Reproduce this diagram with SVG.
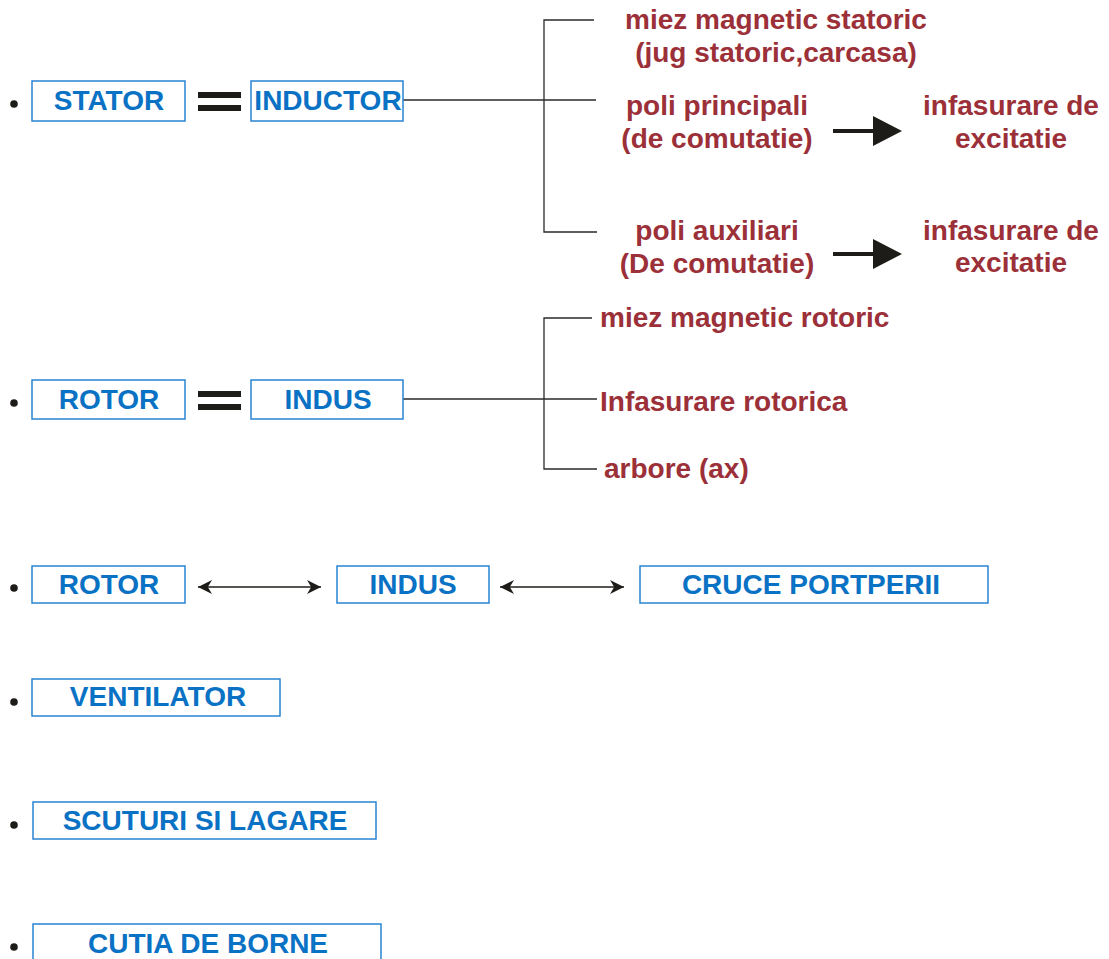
<svg xmlns="http://www.w3.org/2000/svg" width="1109" height="959" viewBox="0 0 1109 959">
  <style>
    .box { fill: #ffffff; stroke: #2a84d2; stroke-width: 1.5; }
    .lbl { font-family: "Liberation Sans", Arial, sans-serif; font-weight: bold; font-size: 28px; fill: #0a72c4; text-anchor: middle; }
    .part { font-family: "Liberation Sans", Arial, sans-serif; font-weight: bold; font-size: 28px; fill: #9c3039; }
    .mid { text-anchor: middle; }
    .dot { fill: #1e1c18; }
    .bar { fill: #1e1c18; }
    .wire { stroke: #2a2a2a; stroke-width: 1.3; fill: none; }
    .dbl { stroke: #1e1c18; stroke-width: 1.5; fill: none; marker-start: url(#tipL); marker-end: url(#tipR); }
  </style>
  <defs>
    <marker id="tipR" viewBox="0 0 10 10" refX="10" refY="5" markerWidth="14" markerHeight="14" markerUnits="userSpaceOnUse" orient="auto">
      <path d="M0,0 L10,5 L0,10 L3,5 Z" fill="#1e1c18"/>
    </marker>
    <marker id="tipL" viewBox="0 0 10 10" refX="0" refY="5" markerWidth="14" markerHeight="14" markerUnits="userSpaceOnUse" orient="auto">
      <path d="M10,0 L0,5 L10,10 L7,5 Z" fill="#1e1c18"/>
    </marker>
  </defs>

  <!-- bullets -->
  <g id="bullets">
    <circle class="dot" cx="14" cy="104" r="3.8"/>
    <circle class="dot" cx="14" cy="403" r="3.8"/>
    <circle class="dot" cx="14" cy="588" r="3.8"/>
    <circle class="dot" cx="14" cy="702" r="3.8"/>
    <circle class="dot" cx="14" cy="825" r="3.8"/>
    <circle class="dot" cx="14" cy="947" r="3.8"/>
  </g>

  <!-- connectors -->
  <g id="connectors">
    <!-- stator bracket -->
    <path class="wire" d="M594,20 H544 V232 H597"/>
    <path class="wire" d="M403,100 H596"/>
    <!-- rotor bracket -->
    <path class="wire" d="M592,318 H544 V469 H597"/>
    <path class="wire" d="M403,399 H597"/>
    <!-- thick arrows to the windings -->
    <path class="bar" d="M833,129 H873 V116 L902,131 L873,146 V133 H833 Z"/>
    <path class="bar" d="M833,252 H873 V239 L902,254 L873,269 V256 H833 Z"/>
    <!-- double-headed links -->
    <line class="dbl" x1="198" y1="587" x2="321" y2="587"/>
    <line class="dbl" x1="500" y1="587" x2="624" y2="587"/>
    <!-- equals signs -->
    <rect class="bar" x="198" y="92" width="43" height="6"/>
    <rect class="bar" x="198" y="105" width="43" height="6"/>
    <rect class="bar" x="198" y="391" width="43" height="6"/>
    <rect class="bar" x="198" y="404" width="43" height="6"/>
  </g>

  <g id="stator">
    <rect class="box" x="32" y="81" width="153" height="40"/>
    <text class="lbl" x="109" y="110">STATOR</text>
  </g>
  <g id="inductor">
    <rect class="box" x="251" y="81" width="152" height="40"/>
    <text class="lbl" x="328" y="110">INDUCTOR</text>
  </g>

  <g id="miez-statoric">
    <text class="part mid" x="776" y="29">miez magnetic statoric</text>
    <text class="part mid" x="776" y="62">(jug statoric,carcasa)</text>
  </g>
  <g id="poli-principali">
    <text class="part mid" x="717" y="115">poli principali</text>
    <text class="part mid" x="717" y="148">(de comutatie)</text>
  </g>
  <g id="excitatie-1">
    <text class="part mid" x="1011" y="115">infasurare de</text>
    <text class="part mid" x="1011" y="148">excitatie</text>
  </g>
  <g id="poli-auxiliari">
    <text class="part mid" x="717" y="240">poli auxiliari</text>
    <text class="part mid" x="717" y="273">(De comutatie)</text>
  </g>
  <g id="excitatie-2">
    <text class="part mid" x="1011" y="240">infasurare de</text>
    <text class="part mid" x="1011" y="272">excitatie</text>
  </g>

  <g id="rotor">
    <rect class="box" x="32" y="380" width="153" height="39"/>
    <text class="lbl" x="109" y="409">ROTOR</text>
  </g>
  <g id="indus">
    <rect class="box" x="251" y="380" width="152" height="39"/>
    <text class="lbl" x="328" y="409">INDUS</text>
  </g>

  <g id="miez-rotoric">
    <text class="part" x="600" y="327">miez magnetic rotoric</text>
  </g>
  <g id="infasurare-rotorica">
    <text class="part" x="600" y="411">Infasurare rotorica</text>
  </g>
  <g id="arbore">
    <text class="part" x="604" y="478">arbore (ax)</text>
  </g>

  <g id="rotor-2">
    <rect class="box" x="32" y="566" width="153" height="37"/>
    <text class="lbl" x="109" y="594">ROTOR</text>
  </g>
  <g id="indus-2">
    <rect class="box" x="337" y="566" width="152" height="37"/>
    <text class="lbl" x="413" y="594">INDUS</text>
  </g>
  <g id="cruce-portperii">
    <rect class="box" x="640" y="566" width="348" height="37"/>
    <text class="lbl" x="811" y="594">CRUCE PORTPERII</text>
  </g>

  <g id="ventilator">
    <rect class="box" x="32" y="679" width="248" height="37"/>
    <text class="lbl" x="158" y="706">VENTILATOR</text>
  </g>
  <g id="scuturi">
    <rect class="box" x="33" y="802" width="343" height="37"/>
    <text class="lbl" x="205" y="830">SCUTURI SI LAGARE</text>
  </g>
  <g id="cutia">
    <rect class="box" x="33" y="924" width="348" height="40"/>
    <text class="lbl" x="208" y="953">CUTIA DE BORNE</text>
  </g>
</svg>
